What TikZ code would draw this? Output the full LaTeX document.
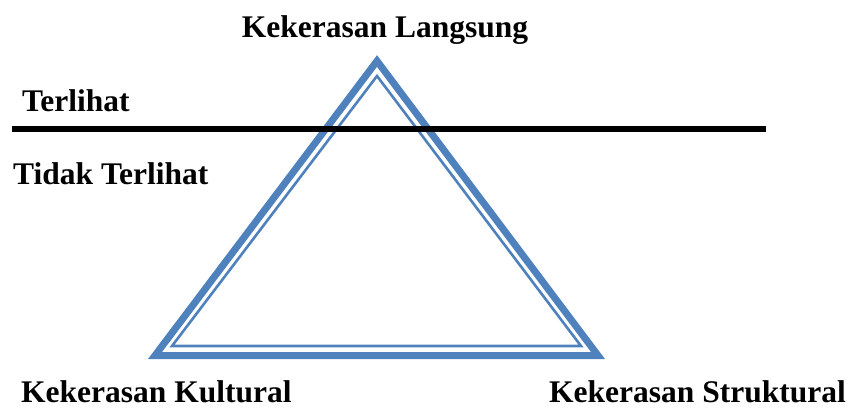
\documentclass[tikz,border=0pt]{standalone}
\usepackage{fontspec}
\setmainfont{Liberation Serif}
\usetikzlibrary{positioning,calc}
\definecolor{triblue}{HTML}{4F81BD}

\begin{document}
\begin{tikzpicture}
[x=1pt,y=-1pt,
lbl/.style={inner sep=0pt,font=\fontsize{31.5}{36}\selectfont\bfseries},
outer/.style={triblue,line width=7pt,line join=miter},
inner/.style={triblue,line width=2.6pt,line join=miter},
divider/.style={black,line width=6.5pt}]
%%%%%%%%%%

\useasboundingbox (0,0) rectangle (854,410);

% triangle, thick band outside and thin band inside
\coordinate (top) at (377,61);
\coordinate (left) at (155,355.5);
\coordinate (right) at (598,355.5);
\coordinate (itop) at (377,76);
\coordinate (ileft) at (172,346);
\coordinate (iright) at (581,346);
\draw[outer] (top) -- (left) -- (right) -- cycle;
\draw[inner] (itop) -- (ileft) -- (iright) -- cycle;

% visible / invisible line
\coordinate (lineL) at (12,129);
\coordinate (lineR) at (766,129);
\draw[divider] (lineL) -- (lineR);

\node[lbl,anchor=base] (langsung) at (385,37) {Kekerasan Langsung};
\node[lbl,anchor=base west] (terlihat) at (22,111) {Terlihat};
\node[lbl,anchor=base west] (tidak) at (13,184) {Tidak Terlihat};
\node[lbl,text depth=0pt,anchor=base west] (kultural) at (21,402) {Kekerasan Kultural};
\node[lbl,text depth=0pt,anchor=base west] (struktural) at (549,402) {Kekerasan Struktural};
\end{tikzpicture}
\end{document}
